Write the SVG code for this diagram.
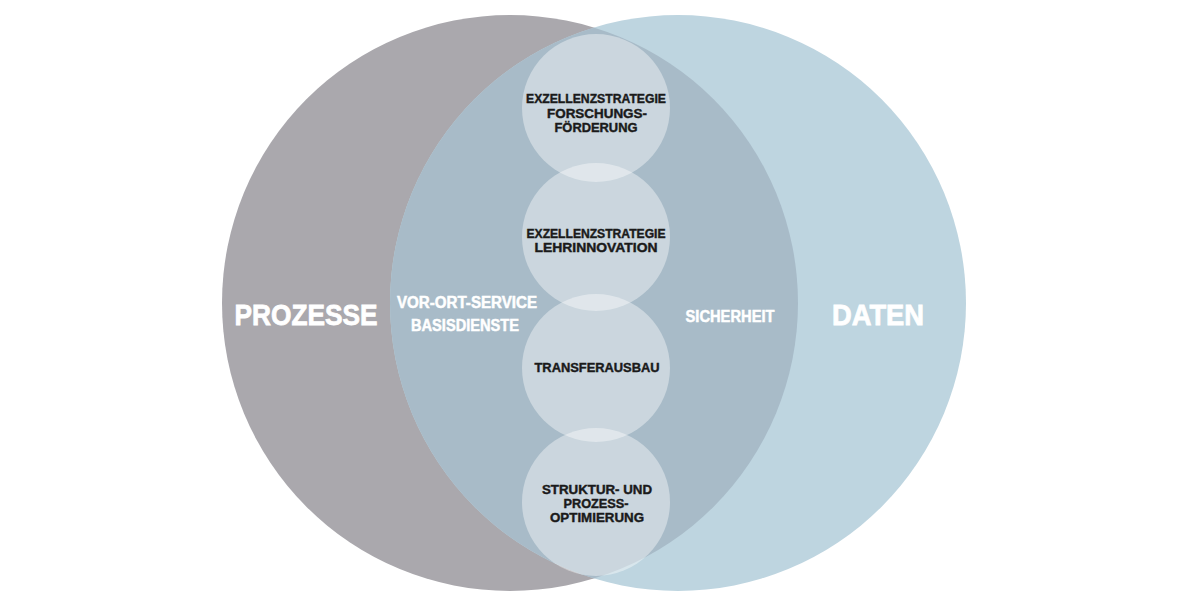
<svg xmlns="http://www.w3.org/2000/svg" width="1200" height="605" viewBox="0 0 1200 605">
<style>
.big{font-family:"Liberation Sans",Arial,sans-serif;font-weight:bold;fill:#ffffff;stroke:#ffffff;stroke-width:0.8;text-anchor:middle}
.mid{font-family:"Liberation Sans",Arial,sans-serif;font-weight:bold;fill:#ffffff;stroke:#ffffff;stroke-width:0.5;text-anchor:middle;font-size:16px}
.sm{font-family:"Liberation Sans",Arial,sans-serif;font-weight:bold;fill:#1a1a1a;stroke:#1a1a1a;stroke-width:0.4;text-anchor:middle;font-size:12.5px}
.small{fill:#ffffff;fill-opacity:0.4}
</style>
<defs>
<clipPath id="grayClip"><circle cx="510" cy="303" r="288"/></clipPath>
</defs>
<rect width="1200" height="605" fill="#ffffff"/>
<g id="prozesse">
<circle cx="510" cy="303" r="288" fill="#aaa8ad"/>
</g>
<g id="daten">
<circle cx="678" cy="303" r="288" fill="#bed5e0"/>
</g>
<g id="overlap">
<circle cx="678" cy="303" r="288" fill="#a8bbc8" clip-path="url(#grayClip)"/>
</g>
<g id="connectors"/>
<g id="labels">
<text class="big" x="306" y="325" font-size="30" textLength="143" lengthAdjust="spacingAndGlyphs">PROZESSE</text>
<text class="big" x="878" y="325" font-size="30" textLength="92" lengthAdjust="spacingAndGlyphs">DATEN</text>
<text class="mid" x="467" y="308" textLength="140" lengthAdjust="spacingAndGlyphs">VOR-ORT-SERVICE</text>
<text class="mid" x="465" y="331" textLength="108" lengthAdjust="spacingAndGlyphs">BASISDIENSTE</text>
<text class="mid" x="730" y="322" textLength="89" lengthAdjust="spacingAndGlyphs">SICHERHEIT</text>
</g>
<g id="node-forschung">
<circle class="small" cx="596" cy="108" r="74"/>
<text class="sm" x="596" y="103" textLength="140" lengthAdjust="spacingAndGlyphs">EXZELLENZSTRATEGIE</text>
<text class="sm" x="597" y="118" textLength="100" lengthAdjust="spacingAndGlyphs">FORSCHUNGS-</text>
<text class="sm" x="596" y="132" textLength="83" lengthAdjust="spacingAndGlyphs">FÖRDERUNG</text>
</g>
<g id="node-lehre">
<circle class="small" cx="596" cy="237" r="74"/>
<text class="sm" x="596" y="238" textLength="139" lengthAdjust="spacingAndGlyphs">EXZELLENZSTRATEGIE</text>
<text class="sm" x="596" y="252" textLength="123" lengthAdjust="spacingAndGlyphs">LEHRINNOVATION</text>
</g>
<g id="node-transfer">
<circle class="small" cx="596" cy="368" r="74"/>
<text class="sm" x="597" y="372" textLength="125" lengthAdjust="spacingAndGlyphs">TRANSFERAUSBAU</text>
</g>
<g id="node-struktur">
<circle class="small" cx="596" cy="502" r="74"/>
<text class="sm" x="597" y="494" textLength="110" lengthAdjust="spacingAndGlyphs">STRUKTUR- UND</text>
<text class="sm" x="596" y="508" textLength="65" lengthAdjust="spacingAndGlyphs">PROZESS-</text>
<text class="sm" x="597" y="522" textLength="94" lengthAdjust="spacingAndGlyphs">OPTIMIERUNG</text>
</g>
</svg>
